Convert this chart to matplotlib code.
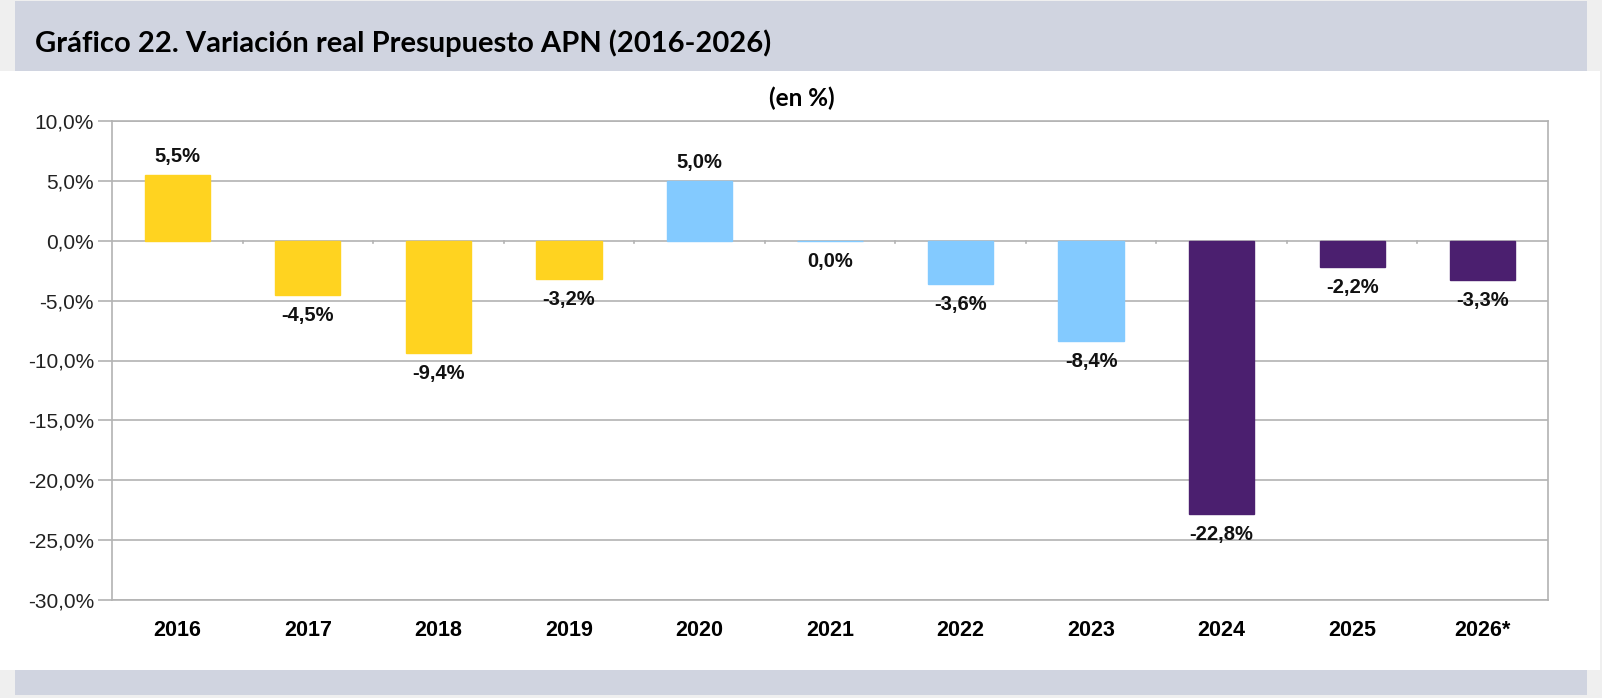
import matplotlib
matplotlib.use("Agg")
import matplotlib.pyplot as plt
from matplotlib.patches import Rectangle

years = ["2016", "2017", "2018", "2019", "2020", "2021", "2022", "2023", "2024", "2025", "2026*"]
values = [5.5, -4.5, -9.4, -3.2, 5.0, 0.0, -3.6, -8.4, -22.8, -2.2, -3.3]
colors = ["#FFD320"] * 4 + ["#83CAFF"] * 4 + ["#4B1F6F"] * 3
yticks = [10, 5, 0, -5, -10, -15, -20, -25, -30]

W, H = 1602, 698
fig = plt.figure(figsize=(W / 100, H / 100), dpi=100)
fig.patch.set_facecolor("#EFEFEF")


def box(x0, y0, x1, y1, color):
    # pixel box (top-left origin) -> figure fraction
    fig.add_artist(Rectangle((x0 / W, 1 - y1 / H), (x1 - x0) / W, (y1 - y0) / H,
                             transform=fig.transFigure, facecolor=color,
                             edgecolor="none", zorder=0))


box(15, 1, 1587, 71, "#D0D4E0")
box(0, 71, 1600, 670, "#FFFFFF")
box(15, 670, 1587, 695, "#D0D4E0")

fig.text(35 / W, 1 - 43 / H, "Gráfico 22. Variación real Presupuesto APN (2016-2026)",
         family="Lato", weight="bold", fontsize=21, va="center", ha="left")
fig.text(802 / W, 1 - 98 / H, "(en %)", family="Lato", weight="bold",
         fontsize=17.5, va="center", ha="center")

ax = fig.add_axes([112 / W, 1 - 600 / H, (1548 - 112) / W, (600 - 121) / H])
ax.set_facecolor("white")

x = range(len(years))
ax.bar(x, values, width=0.5, color=colors, edgecolor=colors, linewidth=1, zorder=3)

ax.set_xlim(-0.5, len(years) - 0.5)
ax.set_ylim(-30, 10)
ax.set_yticks(yticks)
ax.set_yticklabels([f"{v:.1f}%".replace(".", ",") for v in yticks],
                   family="Liberation Sans", fontsize=15, color="#222222")
ax.yaxis.grid(True, color="#B3B3B3", linewidth=1.2, zorder=0)
ax.tick_params(axis="y", length=10, color="#B3B3B3", width=1.2, pad=3)

# year labels below the plot
ax.set_xticks([])
for i, yr in enumerate(years):
    ax.text(i, -30 / (600 - 121), yr, transform=ax.get_xaxis_transform(),
            ha="center", va="center", family="Liberation Sans",
            weight="bold", fontsize=15.5)

# tick marks between categories on the zero line
for b in range(1, len(years)):
    ax.plot([b - 0.5, b - 0.5], [0, -0.17], color="#B3B3B3", linewidth=1.2,
            zorder=2, clip_on=False)

for s in ["left", "right", "top", "bottom"]:
    ax.spines[s].set_color("#B3B3B3")
    ax.spines[s].set_linewidth(1.2)

for i, v in enumerate(values):
    lab = f"{v:.1f}%".replace(".", ",")
    if v > 0:
        ax.annotate(lab, (i, v), xytext=(0, 9), textcoords="offset pixels",
                    ha="center", va="bottom", family="Liberation Sans",
                    weight="bold", fontsize=14.5, color="#111111")
    else:
        ax.annotate(lab, (i, v), xytext=(0, -11), textcoords="offset pixels",
                    ha="center", va="top", family="Liberation Sans",
                    weight="bold", fontsize=14.5, color="#111111")

fig.savefig("out.png", dpi=100, facecolor=fig.get_facecolor())
